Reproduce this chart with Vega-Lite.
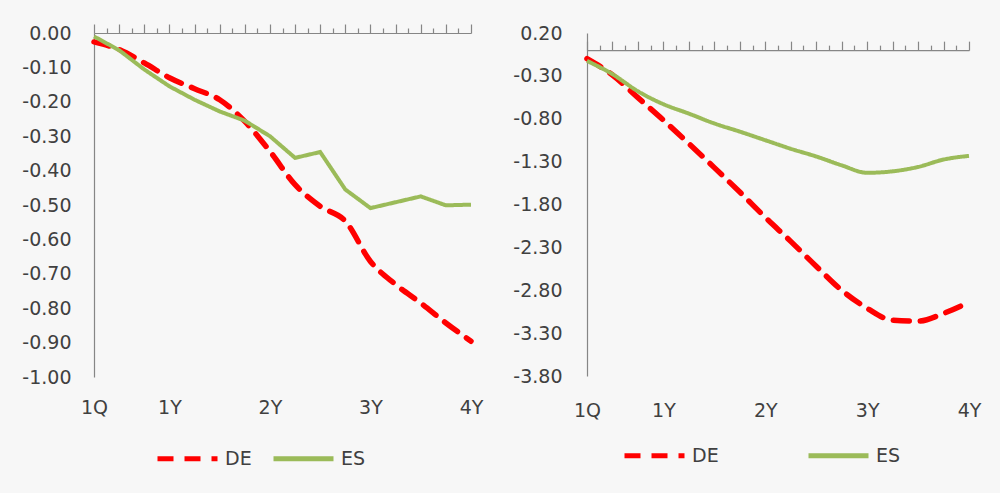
{
  "$schema": "https://vega.github.io/schema/vega-lite/v6.json",
  "background": "#f7f7f7",
  "padding": {"left": 21, "top": 23, "right": 19, "bottom": 24},
  "bounds": "flush",
  "spacing": 116,
  "config": {
    "font": "DejaVu Sans",
    "view": {"stroke": null},
    "axis": {"labelFont": "DejaVu Sans", "labelFontSize": 19, "labelColor": "#404040", "domainColor": "#868686", "tickColor": "#868686", "domainWidth": 1.2, "tickWidth": 1.2, "grid": false, "title": null},
    "legend": {"labelFont": "DejaVu Sans", "labelFontSize": 19, "labelColor": "#404040", "symbolType": "stroke", "symbolSize": 3600, "symbolStrokeWidth": 5, "labelOffset": 5, "title": null}
  },
  "data": {"values": [
    {"panel": "L", "series": "DE", "q": 1, "value": -0.026},
    {"panel": "L", "series": "DE", "q": 2, "value": -0.048},
    {"panel": "L", "series": "DE", "q": 3, "value": -0.087},
    {"panel": "L", "series": "DE", "q": 4, "value": -0.13},
    {"panel": "L", "series": "DE", "q": 5, "value": -0.162},
    {"panel": "L", "series": "DE", "q": 6, "value": -0.194},
    {"panel": "L", "series": "DE", "q": 7, "value": -0.257},
    {"panel": "L", "series": "DE", "q": 8, "value": -0.344},
    {"panel": "L", "series": "DE", "q": 9, "value": -0.441},
    {"panel": "L", "series": "DE", "q": 10, "value": -0.504},
    {"panel": "L", "series": "DE", "q": 11, "value": -0.547},
    {"panel": "L", "series": "DE", "q": 12, "value": -0.664},
    {"panel": "L", "series": "DE", "q": 13, "value": -0.731},
    {"panel": "L", "series": "DE", "q": 14, "value": -0.785},
    {"panel": "L", "series": "DE", "q": 15, "value": -0.843},
    {"panel": "L", "series": "DE", "q": 16, "value": -0.896},
    {"panel": "L", "series": "ES", "q": 1, "value": -0.01},
    {"panel": "L", "series": "ES", "q": 2, "value": -0.05},
    {"panel": "L", "series": "ES", "q": 3, "value": -0.106},
    {"panel": "L", "series": "ES", "q": 4, "value": -0.155},
    {"panel": "L", "series": "ES", "q": 5, "value": -0.194},
    {"panel": "L", "series": "ES", "q": 6, "value": -0.228},
    {"panel": "L", "series": "ES", "q": 7, "value": -0.255},
    {"panel": "L", "series": "ES", "q": 8, "value": -0.30},
    {"panel": "L", "series": "ES", "q": 9, "value": -0.363},
    {"panel": "L", "series": "ES", "q": 10, "value": -0.346},
    {"panel": "L", "series": "ES", "q": 11, "value": -0.455},
    {"panel": "L", "series": "ES", "q": 12, "value": -0.509},
    {"panel": "L", "series": "ES", "q": 13, "value": -0.492},
    {"panel": "L", "series": "ES", "q": 14, "value": -0.475},
    {"panel": "L", "series": "ES", "q": 15, "value": -0.501},
    {"panel": "L", "series": "ES", "q": 16, "value": -0.499},
    {"panel": "R", "series": "DE", "q": 1, "value": -0.10},
    {"panel": "R", "series": "DE", "q": 2, "value": -0.29},
    {"panel": "R", "series": "DE", "q": 3, "value": -0.554},
    {"panel": "R", "series": "DE", "q": 4, "value": -0.816},
    {"panel": "R", "series": "DE", "q": 5, "value": -1.09},
    {"panel": "R", "series": "DE", "q": 6, "value": -1.37},
    {"panel": "R", "series": "DE", "q": 7, "value": -1.655},
    {"panel": "R", "series": "DE", "q": 8, "value": -1.95},
    {"panel": "R", "series": "DE", "q": 9, "value": -2.23},
    {"panel": "R", "series": "DE", "q": 10, "value": -2.52},
    {"panel": "R", "series": "DE", "q": 11, "value": -2.80},
    {"panel": "R", "series": "DE", "q": 12, "value": -3.01},
    {"panel": "R", "series": "DE", "q": 13, "value": -3.15},
    {"panel": "R", "series": "DE", "q": 14, "value": -3.16},
    {"panel": "R", "series": "DE", "q": 15, "value": -3.07},
    {"panel": "R", "series": "DE", "q": 16, "value": -2.94},
    {"panel": "R", "series": "ES", "q": 1, "value": -0.125},
    {"panel": "R", "series": "ES", "q": 2, "value": -0.28},
    {"panel": "R", "series": "ES", "q": 3, "value": -0.48},
    {"panel": "R", "series": "ES", "q": 4, "value": -0.63},
    {"panel": "R", "series": "ES", "q": 5, "value": -0.74},
    {"panel": "R", "series": "ES", "q": 6, "value": -0.855},
    {"panel": "R", "series": "ES", "q": 7, "value": -0.95},
    {"panel": "R", "series": "ES", "q": 8, "value": -1.05},
    {"panel": "R", "series": "ES", "q": 9, "value": -1.15},
    {"panel": "R", "series": "ES", "q": 10, "value": -1.24},
    {"panel": "R", "series": "ES", "q": 11, "value": -1.343},
    {"panel": "R", "series": "ES", "q": 12, "value": -1.43},
    {"panel": "R", "series": "ES", "q": 13, "value": -1.413},
    {"panel": "R", "series": "ES", "q": 14, "value": -1.362},
    {"panel": "R", "series": "ES", "q": 15, "value": -1.276},
    {"panel": "R", "series": "ES", "q": 16, "value": -1.233}
  ]},
  "hconcat": [
    {
      "width": 377,
      "height": 344,
      "transform": [{"filter": "datum.panel === 'L'"}],
      "encoding": {
        "y": {"field": "value", "type": "quantitative", "scale": {"domain": [-1, 0], "nice": false, "zero": false},
              "axis": {"values": [0, -0.1, -0.2, -0.3, -0.4, -0.5, -0.6, -0.7, -0.8, -0.9, -1], "format": ".2f", "labelExpr": "replace(datum.label, '\u2212', '-')", "ticks": false, "labelPadding": 23, "domain": true}},
        "color": {"field": "series", "type": "nominal", "scale": {"domain": ["DE", "ES"], "range": ["#ff0000", "#9bbb59"]},
                  "legend": {"orient": "none", "legendX": 61, "legendY": 393, "direction": "horizontal", "columnPadding": 11}},
        "strokeDash": {"field": "series", "type": "nominal", "scale": {"domain": ["DE", "ES"], "range": [[16, 11], [1, 0]]},
                  "legend": {"orient": "none", "legendX": 61, "legendY": 393, "direction": "horizontal", "columnPadding": 11}}
      },
      "layer": [
        {
          "transform": [{"filter": "datum.series === 'DE'"}],
          "mark": {"type": "line", "interpolate": "monotone", "strokeWidth": 5.5, "strokeCap": "round"},
          "encoding": {
            "x": {"field": "q", "type": "quantitative", "scale": {"domain": [1, 16], "nice": false, "zero": false},
                  "axis": {"orient": "bottom", "values": [1, 4, 8, 12, 16], "labelExpr": "datum.value == 1 ? '1Q' : (datum.value / 4) + 'Y'", "labelFlush": false, "domain": false, "ticks": false, "labelPadding": 30, "labelBaseline": "middle"}}
          }
        },
        {
          "transform": [{"filter": "datum.series === 'ES'"}],
          "mark": {"type": "line", "interpolate": "linear", "strokeWidth": 4},
          "encoding": {
            "x": {"field": "q", "type": "quantitative", "scale": {"domain": [1, 16], "nice": false, "zero": false},
                  "axis": {"orient": "top", "values": [1, 1.5, 2, 2.5, 3, 3.5, 4, 4.5, 5, 5.5, 6, 6.5, 7, 7.5, 8, 8.5, 9, 9.5, 10, 10.5, 11, 11.5, 12, 12.5, 13, 13.5, 14, 14.5, 15, 15.5, 16], "labels": false, "domain": true, "ticks": true,
                           "tickSize": {"condition": {"test": "datum.value % 1 === 0", "value": 9}, "value": 5}}}
          }
        }
      ],
      "resolve": {"axis": {"x": "independent"}}
    },
    {
      "width": 382,
      "height": 343,
      "transform": [{"filter": "datum.panel === 'R'"}],
      "encoding": {
        "y": {"field": "value", "type": "quantitative", "scale": {"domain": [-3.8, 0.2], "nice": false, "zero": false},
              "axis": {"values": [0.2, -0.3, -0.8, -1.3, -1.8, -2.3, -2.8, -3.3, -3.8], "format": ".2f", "labelExpr": "replace(datum.label, '\u2212', '-')", "ticks": false, "labelPadding": 25, "domain": true}},
        "color": {"field": "series", "type": "nominal", "scale": {"domain": ["DE", "ES"], "range": ["#ff0000", "#9bbb59"]},
                  "legend": {"orient": "none", "legendX": 35, "legendY": 390, "direction": "horizontal", "columnPadding": 79}},
        "strokeDash": {"field": "series", "type": "nominal", "scale": {"domain": ["DE", "ES"], "range": [[16, 11], [1, 0]]},
                  "legend": {"orient": "none", "legendX": 35, "legendY": 390, "direction": "horizontal", "columnPadding": 79}}
      },
      "layer": [
        {
          "transform": [{"filter": "datum.series === 'DE'"}],
          "mark": {"type": "line", "interpolate": "monotone", "strokeWidth": 5.5, "strokeCap": "round"},
          "encoding": {
            "x": {"field": "q", "type": "quantitative", "scale": {"domain": [1, 16], "nice": false, "zero": false},
                  "axis": {"orient": "bottom", "values": [1, 4, 8, 12, 16], "labelExpr": "datum.value == 1 ? '1Q' : (datum.value / 4) + 'Y'", "labelFlush": false, "domain": false, "ticks": false, "labelPadding": 34, "labelBaseline": "middle"}}
          }
        },
        {
          "transform": [{"filter": "datum.series === 'ES'"}],
          "mark": {"type": "line", "interpolate": "monotone", "strokeWidth": 4},
          "encoding": {
            "x": {"field": "q", "type": "quantitative", "scale": {"domain": [1, 16], "nice": false, "zero": false},
                  "axis": {"orient": "top", "offset": -17.15, "values": [1, 1.5, 2, 2.5, 3, 3.5, 4, 4.5, 5, 5.5, 6, 6.5, 7, 7.5, 8, 8.5, 9, 9.5, 10, 10.5, 11, 11.5, 12, 12.5, 13, 13.5, 14, 14.5, 15, 15.5, 16], "labels": false, "domain": true, "ticks": true,
                           "tickSize": {"condition": {"test": "datum.value % 1 === 0", "value": 9}, "value": 5}}}
          }
        }
      ],
      "resolve": {"axis": {"x": "independent"}}
    }
  ],
  "resolve": {"legend": {"color": "independent", "strokeDash": "independent"}, "scale": {"y": "independent"}}
}
